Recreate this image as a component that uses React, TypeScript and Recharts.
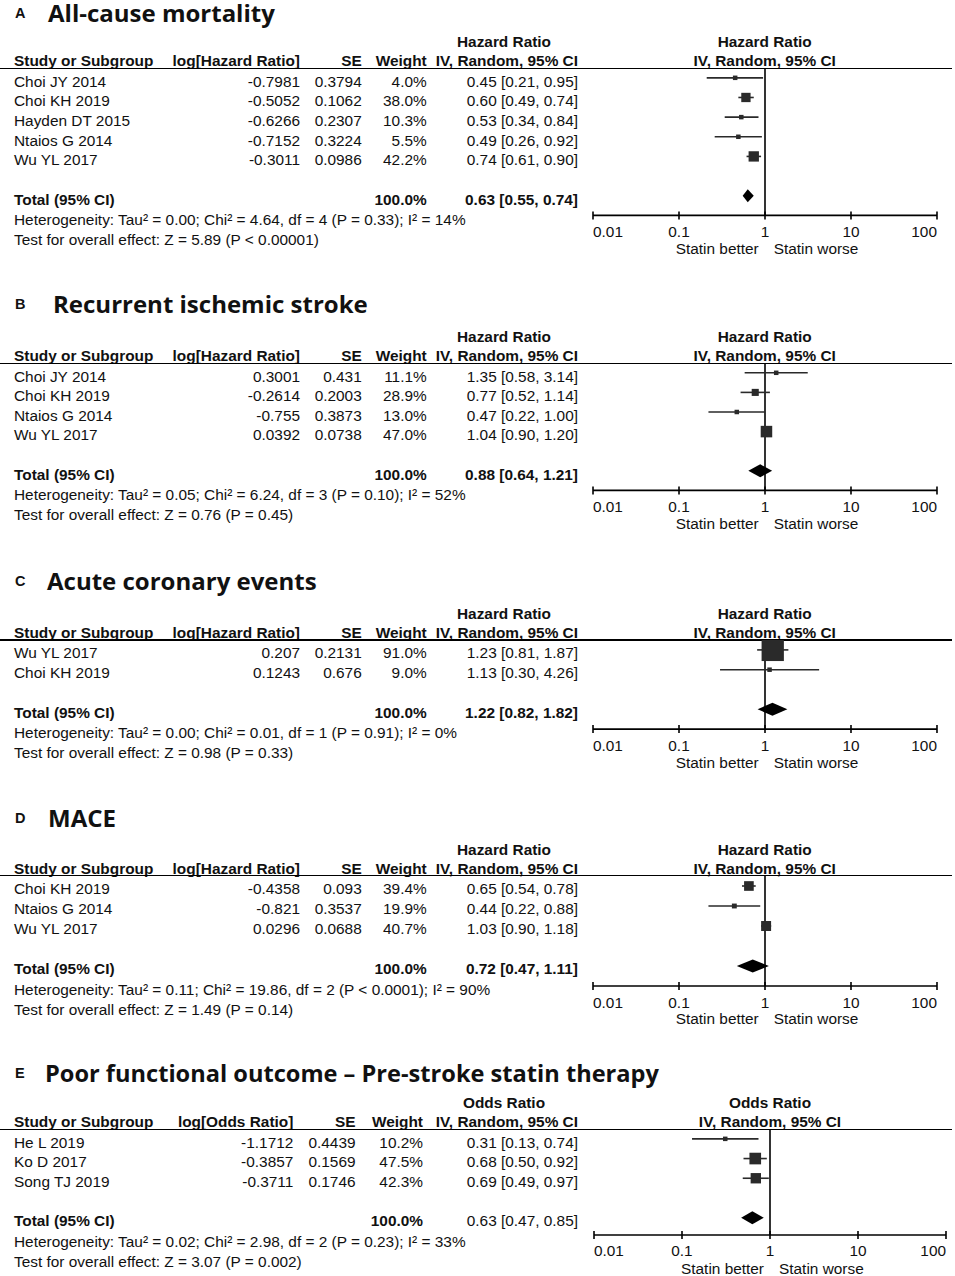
import React from 'react'
import {
  ComposedChart,
  ReferenceArea,
  ReferenceLine,
  Scatter,
  XAxis,
  YAxis,
} from 'recharts'

// ---- A: all-cause mortality
const studiesA = ['Choi JY 2014', 'Choi KH 2019', 'Hayden DT 2015', 'Ntaios G 2014', 'Wu YL 2017']
const logA = [-0.7981, -0.5052, -0.6266, -0.7152, -0.3011]
const seA = [0.3794, 0.1062, 0.2307, 0.3224, 0.0986]
const weightA = [4.0, 38.0, 10.3, 5.5, 42.2]
const hrA = [0.45, 0.6, 0.53, 0.49, 0.74]
const loA = [0.21, 0.49, 0.34, 0.26, 0.61]
const hiA = [0.95, 0.74, 0.84, 0.92, 0.9]
const totalA = [0.63, 0.55, 0.74]
const hetA = 'Heterogeneity: Tau² = 0.00; Chi² = 4.64, df = 4 (P = 0.33); I² = 14%'
const testA = 'Test for overall effect: Z = 5.89 (P < 0.00001)'

// ---- B: recurrent ischemic stroke
const studiesB = ['Choi JY 2014', 'Choi KH 2019', 'Ntaios G 2014', 'Wu YL 2017']
const logB = [0.3001, -0.2614, -0.755, 0.0392]
const seB = [0.431, 0.2003, 0.3873, 0.0738]
const weightB = [11.1, 28.9, 13.0, 47.0]
const hrB = [1.35, 0.77, 0.47, 1.04]
const loB = [0.58, 0.52, 0.22, 0.9]
const hiB = [3.14, 1.14, 1.0, 1.2]
const totalB = [0.88, 0.64, 1.21]
const hetB = 'Heterogeneity: Tau² = 0.05; Chi² = 6.24, df = 3 (P = 0.10); I² = 52%'
const testB = 'Test for overall effect: Z = 0.76 (P = 0.45)'

// ---- C: acute coronary events
const studiesC = ['Wu YL 2017', 'Choi KH 2019']
const logC = [0.207, 0.1243]
const seC = [0.2131, 0.676]
const weightC = [91.0, 9.0]
const hrC = [1.23, 1.13]
const loC = [0.81, 0.3]
const hiC = [1.87, 4.26]
const totalC = [1.22, 0.82, 1.82]
const hetC = 'Heterogeneity: Tau² = 0.00; Chi² = 0.01, df = 1 (P = 0.91); I² = 0%'
const testC = 'Test for overall effect: Z = 0.98 (P = 0.33)'

// ---- D: MACE
const studiesD = ['Choi KH 2019', 'Ntaios G 2014', 'Wu YL 2017']
const logD = [-0.4358, -0.821, 0.0296]
const seD = [0.093, 0.3537, 0.0688]
const weightD = [39.4, 19.9, 40.7]
const hrD = [0.65, 0.44, 1.03]
const loD = [0.54, 0.22, 0.9]
const hiD = [0.78, 0.88, 1.18]
const totalD = [0.72, 0.47, 1.11]
const hetD = 'Heterogeneity: Tau² = 0.11; Chi² = 19.86, df = 2 (P < 0.0001); I² = 90%'
const testD = 'Test for overall effect: Z = 1.49 (P = 0.14)'

// ---- E: poor functional outcome
const studiesE = ['He L 2019', 'Ko D 2017', 'Song TJ 2019']
const logE = [-1.1712, -0.3857, -0.3711]
const seE = [0.4439, 0.1569, 0.1746]
const weightE = [10.2, 47.5, 42.3]
const hrE = [0.31, 0.68, 0.69]
const loE = [0.13, 0.5, 0.49]
const hiE = [0.74, 0.92, 0.97]
const totalE = [0.63, 0.47, 0.85]
const hetE = 'Heterogeneity: Tau² = 0.02; Chi² = 2.98, df = 2 (P = 0.23); I² = 33%'
const testE = 'Test for overall effect: Z = 3.07 (P = 0.002)'

const axisTicks = [0.01, 0.1, 1, 10, 100]

const FONT = '"Liberation Sans", Arial, sans-serif'
const TITLE_FONT = '"Open Sans", "Noto Sans", sans-serif'
const FS = 15.4
const INK = '#111'

type Panel = {
  letter: string
  title: string
  measure: string
  studies: string[]
  logs: number[]
  se: number[]
  weights: number[]
  hr: number[]
  lo: number[]
  hi: number[]
  total: number[]
  het: string
  test: string
  // layout
  titleY: number
  line: number
  rowH: number
  axisGap: number // axis sits this many rows after the last study row
  x0: number
  x1: number
  cols: number[]
  titleX: number
  boldTotalCI: boolean
}

const panels: Panel[] = [
  {
    letter: 'A', title: 'All-cause mortality', measure: 'Hazard Ratio',
    studies: studiesA, logs: logA, se: seA, weights: weightA, hr: hrA, lo: loA, hi: hiA,
    total: totalA, het: hetA, test: testA,
    titleY: 13, line: 68.3, rowH: 19.65, axisGap: 3, x0: 592.7, x1: 936.7,
    cols: [300, 361.7, 426.7, 578], titleX: 48, boldTotalCI: true,
  },
  {
    letter: 'B', title: 'Recurrent ischemic stroke', measure: 'Hazard Ratio',
    studies: studiesB, logs: logB, se: seB, weights: weightB, hr: hrB, lo: loB, hi: hiB,
    total: totalB, het: hetB, test: testB,
    titleY: 304, line: 363.3, rowH: 19.6, axisGap: 3, x0: 592.7, x1: 936.7,
    cols: [300, 361.7, 426.7, 578], titleX: 53, boldTotalCI: true,
  },
  {
    letter: 'C', title: 'Acute coronary events', measure: 'Hazard Ratio',
    studies: studiesC, logs: logC, se: seC, weights: weightC, hr: hrC, lo: loC, hi: hiC,
    total: totalC, het: hetC, test: testC,
    titleY: 581, line: 640, rowH: 19.8, axisGap: 3, x0: 592.7, x1: 936.7,
    cols: [300, 361.7, 426.7, 578], titleX: 47, boldTotalCI: true,
  },
  {
    letter: 'D', title: 'MACE', measure: 'Hazard Ratio',
    studies: studiesD, logs: logD, se: seD, weights: weightD, hr: hrD, lo: loD, hi: hiD,
    total: totalD, het: hetD, test: testD,
    titleY: 818, line: 875.7, rowH: 20, axisGap: 3, x0: 592.7, x1: 936.7,
    cols: [300, 361.7, 426.7, 578], titleX: 48, boldTotalCI: true,
  },
  {
    letter: 'E', title: 'Poor functional outcome – Pre-stroke statin therapy', measure: 'Odds Ratio',
    studies: studiesE, logs: logE, se: seE, weights: weightE, hr: hrE, lo: loE, hi: hiE,
    total: totalE, het: hetE, test: testE,
    titleY: 1073, line: 1129.3, rowH: 19.7, axisGap: 2.88, x0: 594, x1: 946,
    cols: [293.3, 355.5, 423, 578], titleX: 45, boldTotalCI: false,
  },
]

const ci = (a: number, b: number, c: number) =>
  `${a.toFixed(2)} [${b.toFixed(2)}, ${c.toFixed(2)}]`

type TProps = {
  x: number
  y: number
  align?: 'left' | 'right' | 'center'
  bold?: boolean
  size?: number
  family?: string
  box?: number
  children: React.ReactNode
}

// y is the visual centre of the text line
function T({ x, y, align = 'left', bold, size = FS, family = FONT, box = 14, children }: TProps) {
  const w = 600
  const left = align === 'left' ? x : align === 'right' ? x - w : x - w / 2
  return (
    <div
      style={{
        position: 'absolute',
        left,
        top: y - box / 2,
        width: w,
        height: box,
        lineHeight: `${box}px`,
        textAlign: align,
        fontFamily: family,
        fontSize: size,
        fontWeight: bold ? 700 : 400,
        color: INK,
        whiteSpace: 'nowrap',
      }}
    >
      {children}
    </div>
  )
}

const LogTick = (props: any) => {
  const { x, y, payload, index } = props
  const anchor = index === 0 ? 'start' : index === axisTicks.length - 1 ? 'end' : 'middle'
  return (
    <g>
      <line x1={x} x2={x} y1={y - 8} y2={y} stroke="#000" strokeWidth={1.6} />
      <text x={x} y={y + 17.5} textAnchor={anchor} fontSize={FS} fontFamily={FONT} fill={INK}>
        {String(payload.value)}
      </text>
    </g>
  )
}

const Square = (props: any) => {
  const { cx, cy, payload } = props
  const s = Math.max(4.5, payload.w * 0.245)
  return <rect x={cx - s / 2} y={cy - s / 2} width={s} height={s} fill="#2a2a2a" />
}

const axisRowOf = (p: Panel) => p.studies.length - 1 + p.axisGap

function ForestPlot({ p }: { p: Panel }) {
  const n = p.studies.length
  const pad = 24
  const axisRow = axisRowOf(p)
  const plotH = (axisRow + 0.5) * p.rowH
  const axisH = 30
  const rows = p.studies.map((s, i) => ({ row: i, hr: p.hr[i], lo: p.lo[i], hi: p.hi[i], w: p.weights[i] }))
  const [tHr, tLo, tHi] = p.total
  const frac = (Math.log(tHr) - Math.log(tLo)) / (Math.log(tHi) - Math.log(tLo))
  const diamond = (r: any) => {
    const { x, y, width, height } = r
    const cx = x + width * frac
    const cy = y + height / 2
    return (
      <polygon
        points={`${x},${cy} ${cx},${y} ${x + width},${cy} ${cx},${y + height}`}
        fill="#000"
      />
    )
  }
  return (
    <div style={{ position: 'absolute', left: p.x0 - pad, top: p.line }}>
      <ComposedChart
        width={p.x1 - p.x0 + pad * 2}
        height={plotH + axisH}
        margin={{ top: 0, right: pad, bottom: 0, left: pad }}
        style={{ overflow: 'visible' }}
      >
        <XAxis
          type="number"
          dataKey="hr"
          scale="log"
          domain={[0.01, 100]}
          ticks={axisTicks}
          allowDataOverflow
          height={axisH}
          axisLine={{ stroke: '#000', strokeWidth: 1.6 }}
          tickLine={false}
          tickSize={4}
          tickMargin={0}
          tick={<LogTick />}
          interval={0}
        />
        <YAxis
          type="number"
          dataKey="row"
          domain={[-0.5, axisRow]}
          reversed
          hide
          allowDataOverflow
        />
        <ReferenceLine x={1} stroke="#000" strokeWidth={1.6} />
        {rows.map((r) => (
          <ReferenceLine
            key={r.row}
            segment={[{ x: r.lo, y: r.row }, { x: r.hi, y: r.row }]}
            stroke="#2a2a2a"
            strokeWidth={1.6}
          />
        ))}
        <Scatter data={rows} shape={Square} isAnimationActive={false} />
        <ReferenceArea
          x1={tLo}
          x2={tHi}
          y1={n + 1 - 0.33}
          y2={n + 1 + 0.33}
          shape={diamond}
          ifOverflow="visible"
        />
      </ComposedChart>
    </div>
  )
}

function PanelView({ p }: { p: Panel }) {
  const n = p.studies.length
  const L = p.line
  const rowY = (i: number) => L + (i + 0.5) * p.rowH + 3.5
  const totalY = rowY(n + 1)
  const axisY = L + (axisRowOf(p) + 0.5) * p.rowH
  const one = p.x0 + ((p.x1 - p.x0) * 2) / 4
  const [logC, seC, wC, ciC] = p.cols
  const ratioWord = p.measure.split(' ')[0]
  return (
    <>
      <T x={15} y={p.titleY} bold size={14.5}>{p.letter}</T>
      <T x={p.titleX} y={p.titleY} bold size={p.title.length > 30 ? 23.6 : 24} family={TITLE_FONT} box={22}>
        {p.title}
      </T>
      <T x={504} y={L - 26} align="center" bold>{p.measure}</T>
      <T x={one} y={L - 26} align="center" bold>{p.measure}</T>
      <T x={14} y={L - 7} bold>Study or Subgroup</T>
      <T x={logC} y={L - 7} align="right" bold>{`log[${ratioWord} Ratio]`}</T>
      <T x={seC} y={L - 7} align="right" bold>SE</T>
      <T x={wC} y={L - 7} align="right" bold>Weight</T>
      <T x={ciC} y={L - 7} align="right" bold>IV, Random, 95% CI</T>
      <T x={one} y={L - 7} align="center" bold>IV, Random, 95% CI</T>
      <div
        style={{
          position: 'absolute',
          left: 0,
          top: L - 0.8,
          width: 952,
          height: 1.6,
          background: '#000',
        }}
      />
      {p.studies.map((s, i) => (
        <React.Fragment key={s}>
          <T x={14} y={rowY(i)}>{s}</T>
          <T x={logC} y={rowY(i)} align="right">{String(p.logs[i])}</T>
          <T x={seC} y={rowY(i)} align="right">{String(p.se[i])}</T>
          <T x={wC} y={rowY(i)} align="right">{`${p.weights[i].toFixed(1)}%`}</T>
          <T x={ciC} y={rowY(i)} align="right">{ci(p.hr[i], p.lo[i], p.hi[i])}</T>
        </React.Fragment>
      ))}
      <T x={14} y={totalY} bold>Total (95% CI)</T>
      <T x={wC} y={totalY} align="right" bold>100.0%</T>
      <T x={ciC} y={totalY} align="right" bold={p.boldTotalCI}>
        {ci(p.total[0], p.total[1], p.total[2])}
      </T>
      <T x={14} y={totalY + 20.5}>{p.het}</T>
      <T x={14} y={totalY + 40.5}>{p.test}</T>
      <ForestPlot p={p} />
      <T x={one - 6} y={axisY + 33.5} align="right">Statin better</T>
      <T x={one + 9} y={axisY + 33.5}>Statin worse</T>
    </>
  )
}

export default function App() {
  return (
    <div
      style={{
        position: 'absolute',
        left: 0,
        top: 0,
        width: 955,
        height: 1276,
        background: '#fff',
        overflow: 'hidden',
      }}
    >
      {panels.map((p) => (
        <PanelView key={p.letter} p={p} />
      ))}
    </div>
  )
}
